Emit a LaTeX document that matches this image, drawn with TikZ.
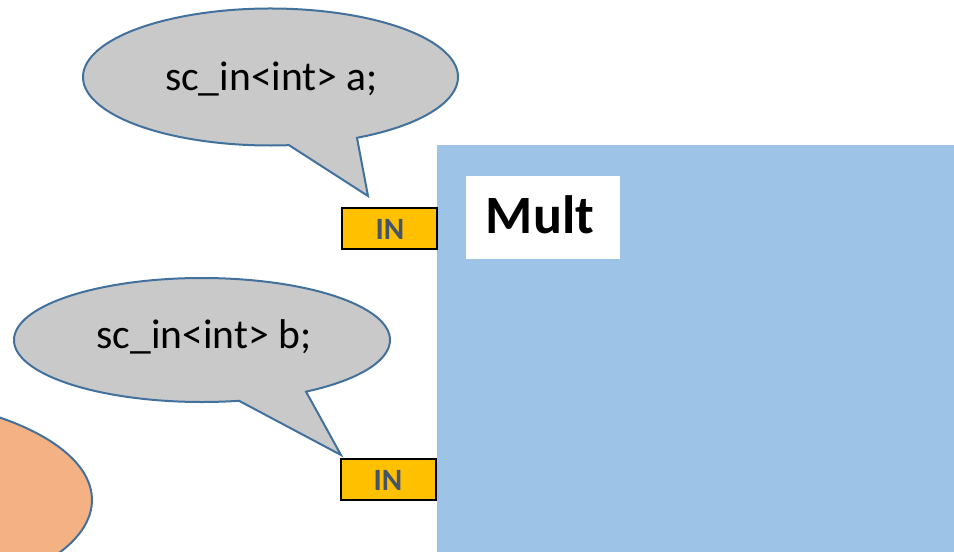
\documentclass[tikz,border=0pt]{standalone}
\usepackage{fontspec}
\setmainfont{Carlito}
\definecolor{modblue}{HTML}{9DC3E6}
\definecolor{calloutfill}{HTML}{C9C9C9}
\definecolor{outlineblue}{HTML}{41719C}
\definecolor{portfill}{HTML}{FFC000}
\definecolor{porttext}{HTML}{44546A}
\definecolor{sigfill}{HTML}{F4B183}
\begin{document}
\begin{tikzpicture}[x=0.5pt,y=-0.5pt,
  callout/.style={fill=calloutfill,draw=outlineblue,line width=1pt,line join=miter},
  callouttext/.style={anchor=base,inner sep=0pt,font=\fontsize{20.8}{24}\selectfont},
  portbox/.style={fill=portfill,draw=black,line width=1pt,minimum width=47.5pt,minimum height=20.5pt,inner sep=0pt},
  porttextstyle/.style={anchor=base,inner sep=0pt,text=porttext,font=\fontsize{15.5}{18}\selectfont\bfseries},
]
\useasboundingbox (0,0) rectangle (954,552);

% signal ellipse, partly off the left and bottom edges
\begin{scope}
  \clip (0,0) rectangle (954,552);
  \filldraw[fill=sigfill,draw=outlineblue,line width=1pt] (-150,500) ellipse[x radius=242,y radius=105];
\end{scope}

% module body
\fill[modblue] (437,145) rectangle (954,552);
\node[fill=white,minimum width=77pt,minimum height=41.5pt,inner sep=0pt] (multbox) at (543,217.5) {};
\node[anchor=base,inner sep=0pt,font=\fontsize{27}{32}\selectfont\bfseries] (multlabel) at (540,233) {Mult};

% input ports
\node[portbox] (inA) at (389.5,228.5) {};
\node[porttextstyle] (inAlabel) at (390,239) {IN};
\node[portbox] (inB) at (388,479.5) {};
\node[porttextstyle] (inBlabel) at (388,490) {IN};

% callout for port a
\coordinate (tipA) at (368,196);
\draw[callout] (270.5,77) ++({187.5*cos(84.34)},{68.5*sin(84.34)})
  -- (tipA)
  -- ({270.5+187.5*cos(62.53)},{77+68.5*sin(62.53)})
  arc[start angle=62.53,end angle=-275.66,x radius=187.5,y radius=68.5] -- cycle;
\node[callouttext] (declA) at (271.5,90) {sc\_in<int> a;};

% callout for port b
\coordinate (tipB) at (341,455);
\draw[callout] (202,340) ++({188*cos(78.65)},{62*sin(78.65)})
  -- (tipB)
  -- ({202+188*cos(56.4)},{340+62*sin(56.4)})
  arc[start angle=56.4,end angle=-281.35,x radius=188,y radius=62] -- cycle;
\node[callouttext] (declB) at (204,348) {sc\_in<int> b;};
\end{tikzpicture}
\end{document}
